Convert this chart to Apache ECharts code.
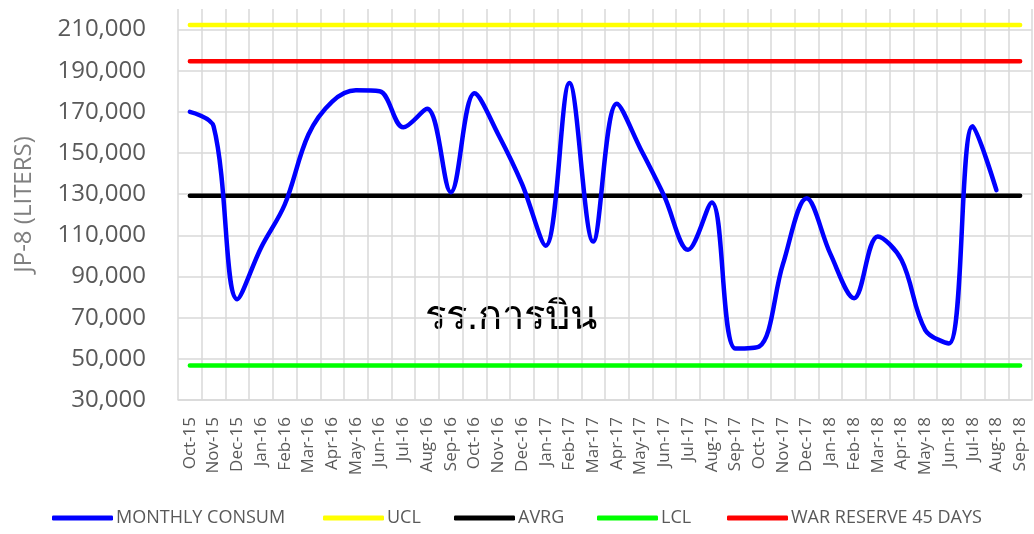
<!DOCTYPE html>
<html>
<head>
<meta charset="utf-8">
<title>JP-8 monthly consumption</title>
<script src="https://cdn.jsdelivr.net/npm/echarts@6/dist/echarts.min.js"></script>
<style>
html, body { margin: 0; padding: 0; background: #fff; }
#chart { width: 1034px; height: 534px; }
</style>
</head>
<body>
<div id="chart"></div>
<script>
// months on the x axis
var months = ['Oct-15','Nov-15','Dec-15','Jan-16','Feb-16','Mar-16','Apr-16','May-16','Jun-16','Jul-16','Aug-16','Sep-16',
              'Oct-16','Nov-16','Dec-16','Jan-17','Feb-17','Mar-17','Apr-17','May-17','Jun-17','Jul-17','Aug-17','Sep-17',
              'Oct-17','Nov-17','Dec-17','Jan-18','Feb-18','Mar-18','Apr-18','May-18','Jun-18','Jul-18','Aug-18','Sep-18'];

// monthly consumption (liters) - no value for Sep-18
var monthlyConsum = [170000, 163000, 79000, 104000, 125000, 159000, 175000, 180500, 180000, 162500, 171500, 131000,
                     179000, 159000, 135000, 105000, 184000, 107000, 174000, 152000, 129000, 103000, 126000, 55000,
                     56000, 96000, 128000, 101000, 79500, 109500, 98000, 64000, 57500, 163000, 132000, null];

// control limits
var ucl = 212200;
var avrg = 129200;
var lcl = 46800;
var warReserve = 194600;

// y axis ticks
var yMin = 30000;
var yMax = 220000;
var yStep = 20000;

function flat(v) {
    return months.map(function () { return v; });
}

var labelColor = '#595959';
var gridColor = '#d9d9d9';
var font = 'Open Sans';

var seriesList = [
    { name: 'MONTHLY CONSUM', data: monthlyConsum, color: '#0000ff', smooth: 0.35, z: 5 },
    { name: 'UCL', data: flat(ucl), color: '#ffff00' },
    { name: 'AVRG', data: flat(avrg), color: '#000000' },
    { name: 'LCL', data: flat(lcl), color: '#00ff00' },
    { name: 'WAR RESERVE 45 DAYS', data: flat(warReserve), color: '#ff0000' }
];

// one legend per item so each sits where it does in the original
var legendLeft = [47, 318, 449, 592, 722];

var chart = echarts.init(document.getElementById('chart'));
chart.setOption({
    animation: false,
    textStyle: { fontFamily: font },
    grid: { left: 178, right: 2, top: 9, bottom: 134 },
    xAxis: {
        type: 'category',
        data: months,
        boundaryGap: true,
        axisLine: { lineStyle: { color: gridColor, width: 1.5 } },
        axisTick: { show: false },
        splitLine: { show: true, interval: 0, lineStyle: { color: gridColor, width: 1.5 } },
        axisLabel: { rotate: 90, interval: 0, fontSize: 17, color: labelColor, margin: 17 }
    },
    yAxis: {
        type: 'value',
        min: yMin,
        max: yMax,
        interval: yStep,
        name: 'JP-8 (LITERS)',
        nameLocation: 'middle',
        nameGap: 142,
        nameTextStyle: { fontSize: 24, color: '#7f7f7f' },
        axisLine: { show: false },
        axisTick: { show: false },
        axisLabel: {
            fontSize: 24,
            color: labelColor,
            margin: 32,
            showMaxLabel: false,
            formatter: function (v) { return v.toLocaleString('en-US'); }
        },
        splitLine: {
            lineStyle: {
                width: 1.5,
                // last line (the 220,000 top) is not drawn in the original
                color: [gridColor, gridColor, gridColor, gridColor, gridColor, gridColor,
                        gridColor, gridColor, gridColor, gridColor, 'rgba(0,0,0,0)']
            }
        }
    },
    legend: seriesList.map(function (s, i) {
        return {
            left: legendLeft[i],
            bottom: 2,
            data: [{ name: s.name, icon: 'roundRect' }],
            itemWidth: 61,
            itemHeight: 5,
            itemGap: 4,
            textStyle: { fontSize: 18, color: labelColor, padding: [0, 0, 0, -2] }
        };
    }),
    graphic: [{
        type: 'text',
        left: 425,
        top: 298,
        style: { text: 'รร.การบิน', fontSize: 40, fontWeight: 'normal', fill: '#000', fontFamily: 'sans-serif' }
    }],
    series: seriesList.map(function (s) {
        return {
            name: s.name,
            type: 'line',
            data: s.data,
            smooth: s.smooth || false,
            showSymbol: false,
            symbol: 'none',
            z: s.z || 3,
            itemStyle: { color: s.color },
            lineStyle: { color: s.color, width: 4.5, cap: 'round' }
        };
    })
});
</script>
</body>
</html>
